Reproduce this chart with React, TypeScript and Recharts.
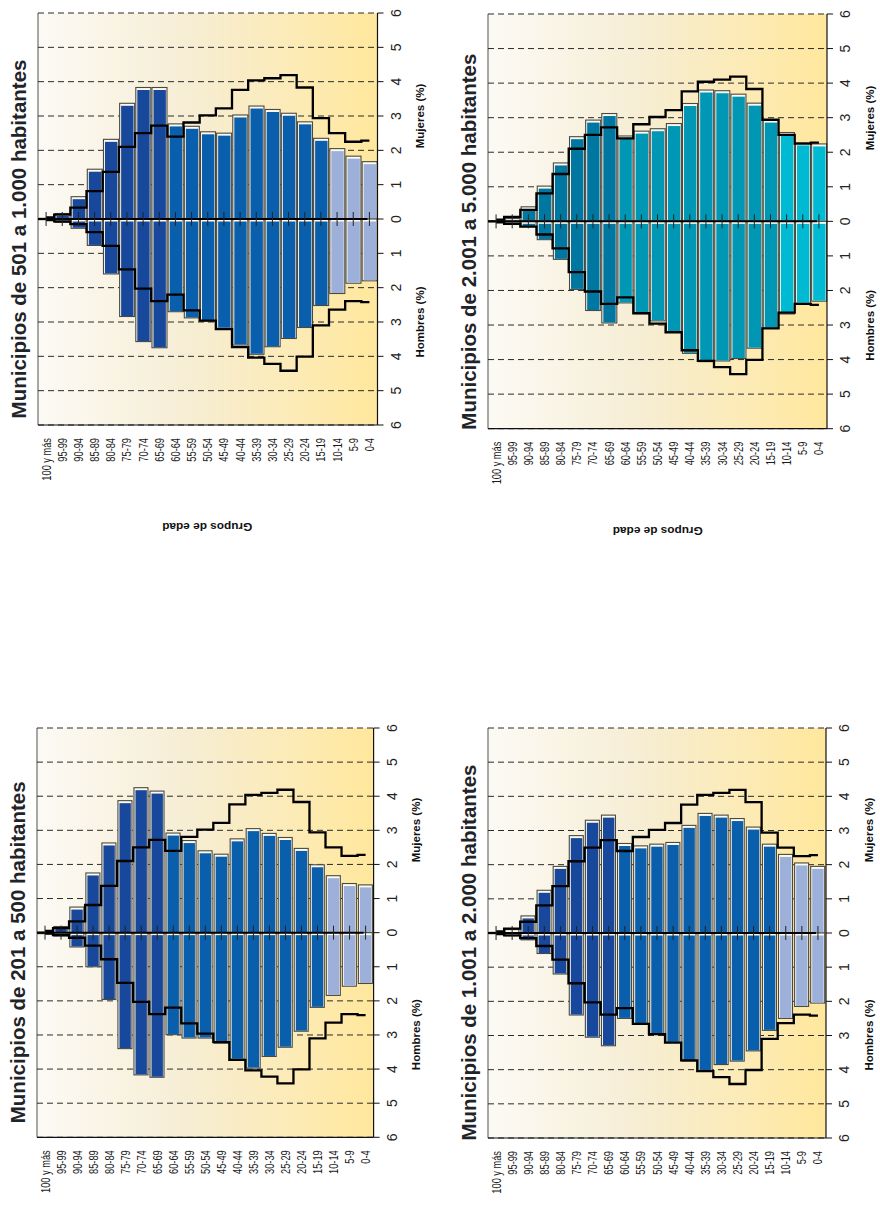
import React from 'react';
import { ComposedChart, Bar, Line, XAxis, YAxis, CartesianGrid, ReferenceLine, Cell } from 'recharts';

// grupos de edad, de mayor a menor
const edades = ['100 y más', '95-99', '90-94', '85-89', '80-84', '75-79', '70-74', '65-69', '60-64', '55-59', '50-54', '45-49', '40-44', '35-39', '30-34', '25-29', '20-24', '15-19', '10-14', '5-9', '0-4'];

// linea de referencia (igual en los cuatro graficos)
const refMujeres = [0.05, 0.13, 0.33, 0.81, 1.37, 2.10, 2.50, 2.72, 2.40, 2.81, 3.02, 3.22, 3.76, 4.04, 4.10, 4.19, 3.83, 2.94, 2.50, 2.25, 2.28];
const refHombres = [0.03, 0.07, 0.15, 0.38, 0.78, 1.47, 2.03, 2.39, 2.20, 2.66, 2.96, 3.21, 3.73, 4.04, 4.22, 4.42, 4.01, 3.10, 2.64, 2.39, 2.42];

// Municipios de 501 a 1.000 habitantes
const mujeres501 = [0.02, 0.16, 0.65, 1.45, 2.32, 3.37, 3.83, 3.83, 2.77, 2.70, 2.54, 2.50, 3.03, 3.29, 3.19, 3.08, 2.83, 2.35, 2.05, 1.83, 1.67];
const hombres501 = [0.02, 0.10, 0.27, 0.77, 1.60, 2.84, 3.57, 3.75, 2.70, 2.88, 2.97, 3.18, 3.67, 3.94, 3.72, 3.48, 3.16, 2.52, 2.17, 1.87, 1.80];

// Municipios de 2.001 a 5.000 habitantes
const mujeres2001 = [0.02, 0.08, 0.42, 1.02, 1.69, 2.45, 2.93, 3.12, 2.47, 2.61, 2.68, 2.83, 3.41, 3.80, 3.78, 3.68, 3.42, 2.93, 2.57, 2.27, 2.24];
const hombres2001 = [0.02, 0.06, 0.15, 0.53, 1.10, 1.97, 2.58, 2.94, 2.36, 2.67, 2.88, 3.21, 3.82, 4.06, 4.04, 3.97, 3.67, 3.09, 2.68, 2.37, 2.31];

// Municipios de 201 a 500 habitantes
const mujeres201 = [0.02, 0.18, 0.75, 1.75, 2.63, 3.87, 4.25, 4.15, 2.92, 2.70, 2.40, 2.30, 2.75, 3.05, 2.91, 2.79, 2.47, 1.99, 1.67, 1.44, 1.40];
const hombres201 = [0.03, 0.10, 0.42, 1.00, 1.96, 3.40, 4.17, 4.24, 2.99, 3.09, 3.09, 3.24, 3.71, 3.97, 3.63, 3.36, 2.89, 2.19, 1.84, 1.57, 1.49];

// Municipios de 1.001 a 2.000 habitantes
const mujeres1001 = [0.02, 0.10, 0.50, 1.25, 1.95, 2.85, 3.30, 3.45, 2.62, 2.55, 2.60, 2.65, 3.15, 3.50, 3.45, 3.35, 3.10, 2.60, 2.30, 2.05, 1.95];
const hombres1001 = [0.02, 0.08, 0.20, 0.60, 1.20, 2.40, 3.05, 3.30, 2.50, 2.65, 2.95, 3.20, 3.75, 4.05, 3.85, 3.75, 3.45, 2.85, 2.50, 2.15, 2.05];

const ticksValor = [-6, -5, -4, -3, -2, -1, 0, 1, 2, 3, 4, 5, 6];

const azules = ['#17489c', '#0a5fad', '#9db0da'];
const turquesas = ['#0077a1', '#0097b5', '#00b9d2'];

const FONT = "'Liberation Sans', Arial, sans-serif";
const ML = 12;
const MT = 4;
const YW = 40;
const XH = 70;

const colorDe = (i: number, pal: string[]) => (i < 8 ? pal[0] : i < 18 ? pal[1] : pal[2]);

const PyrBar = (p: any) => {
  const { x, y, width, height, fill } = p;
  const top = Math.min(y, y + height);
  const h = Math.abs(height);
  if (!h || !width) return null;
  return (
    <g>
      <rect x={x} y={top} width={width} height={h} fill="#fdfbf1" stroke="#4a483f" strokeWidth={1.1} />
      <rect x={x + 1.5} y={top + 2.5} width={Math.max(width - 2.6, 0)} height={Math.max(h - 3, 0)} fill={fill} />
    </g>
  );
};

const EdadTick = (p: any) => (
  <text
    transform={`translate(${p.x},${p.y}) rotate(-90) scale(0.74,1)`}
    textAnchor="end"
    dy="0.36em"
    fontSize={12.5}
    fontFamily={FONT}
    fill="#1a1a1a"
  >
    {p.payload.value}
  </text>
);

const ValorTick = (p: any) => {
  const cx = p.x + 10;
  return (
    <text transform={`rotate(-90 ${cx} ${p.y})`} x={cx} y={p.y} textAnchor="middle" dy="0.36em" fontSize={14} fontFamily={FONT} fill="#222">
      {Math.abs(p.payload.value)}
    </text>
  );
};

const ZeroLine = (p: any) => (
  <line x1={p.x1 - 10} y1={p.y1} x2={p.x2} y2={p.y2} stroke="#000" strokeWidth={2} />
);

const ZeroTick = (p: any) => (
  <line key={p.index} x1={p.cx} x2={p.cx} y1={p.cy - 7} y2={p.cy + 7} stroke="#222" strokeWidth={1} />
);

type Plot = { x: number; y: number; w: number; h: number };

const Piramide = ({ id, mujeres, hombres, paleta, plot }: { id: string; mujeres: number[]; hombres: number[]; paleta: string[]; plot: Plot }) => {
  const rows = edades.map((edad, i) => ({
    edad,
    mujeres: mujeres[i],
    hombres: -hombres[i],
    refM: refMujeres[i],
    refH: -refHombres[i],
  }));
  const gid = `fondo-${id}`;
  return (
    <div style={{ position: 'absolute', left: plot.x - ML, top: plot.y - MT }}>
      <ComposedChart
        width={ML + plot.w + YW}
        height={MT + plot.h + XH}
        data={rows}
        margin={{ top: MT, left: ML, right: 0, bottom: 0 }}
        stackOffset="sign"
        barCategoryGap="5%"
      >
        <defs>
          <linearGradient id={gid} x1="0" y1="0" x2="1" y2="0">
            <stop offset="0%" stopColor="#fcfaf5" />
            <stop offset="45%" stopColor="#f6edd3" />
            <stop offset="75%" stopColor="#fcebb7" />
            <stop offset="100%" stopColor="#ffe79c" />
          </linearGradient>
        </defs>
        <CartesianGrid
          horizontal={false}
          vertical
          verticalCoordinatesGenerator={({ offset }: any) => [offset.left]}
          stroke="#8c8a82"
          strokeWidth={1.5}
          fill={`url(#${gid})`}
          fillOpacity={1}
        />
        <CartesianGrid vertical={false} stroke="#2a2a2a" strokeDasharray="6 4" />
        <XAxis
          dataKey="edad"
          interval={0}
          tickLine={false}
          tickSize={0}
          tickMargin={13}
          axisLine={{ stroke: '#111', strokeWidth: 1.2 }}
          height={XH}
          tick={EdadTick}
        />
        <YAxis
          orientation="right"
          domain={[-6, 6]}
          ticks={ticksValor}
          interval={0}
          width={YW}
          axisLine={{ stroke: '#111', strokeWidth: 1.2 }}
          tickLine={{ stroke: '#111' }}
          tickSize={6}
          tickMargin={2}
          tick={ValorTick}
        />
        <Bar dataKey="mujeres" stackId="p" shape={(p: any) => <PyrBar {...p} />} isAnimationActive={false}>
          {rows.map((r, i) => <Cell key={r.edad} fill={colorDe(i, paleta)} />)}
        </Bar>
        <Bar dataKey="hombres" stackId="p" shape={(p: any) => <PyrBar {...p} />} isAnimationActive={false}>
          {rows.map((r, i) => <Cell key={r.edad} fill={colorDe(i, paleta)} />)}
        </Bar>
        <ReferenceLine y={0} stroke="#000" strokeWidth={2} shape={ZeroLine} />
        <Line dataKey={() => 0} stroke="none" dot={ZeroTick} activeDot={false} isAnimationActive={false} />
        <Line type="step" dataKey="refM" stroke="#000" strokeWidth={2.3} dot={false} activeDot={false} isAnimationActive={false} />
        <Line type="step" dataKey="refH" stroke="#000" strokeWidth={2.3} dot={false} activeDot={false} isAnimationActive={false} />
      </ComposedChart>
    </div>
  );
};

const paneles = [
  { id: 'a', titulo: 'Municipios de 501 a 1.000 habitantes', mujeres: mujeres501, hombres: hombres501, paleta: azules, plot: { x: 37.5, y: 13, w: 339.5, h: 412 }, grupos: true },
  { id: 'b', titulo: 'Municipios de 2.001 a 5.000 habitantes', mujeres: mujeres2001, hombres: hombres2001, paleta: turquesas, plot: { x: 488.3, y: 14.3, w: 339, h: 414.7 }, grupos: true },
  { id: 'c', titulo: 'Municipios de 201 a 500 habitantes', mujeres: mujeres201, hombres: hombres201, paleta: azules, plot: { x: 36.7, y: 727.7, w: 336.6, h: 409.3 }, grupos: false },
  { id: 'd', titulo: 'Municipios de 1.001 a 2.000 habitantes', mujeres: mujeres1001, hombres: hombres1001, paleta: azules, plot: { x: 488, y: 727.5, w: 338, h: 410 }, grupos: false },
];

export default function App() {
  return (
    <div style={{ position: 'absolute', left: 0, top: 0, width: 880, height: 1215, background: '#fff', fontFamily: FONT, overflow: 'hidden' }}>
      {paneles.map(p => (
        <Piramide key={p.id} id={p.id} mujeres={p.mujeres} hombres={p.hombres} paleta={p.paleta} plot={p.plot} />
      ))}
      <svg width={880} height={1215} style={{ position: 'absolute', left: 0, top: 0, pointerEvents: 'none' }}>
        {paneles.map(({ id, titulo, plot, grupos }) => {
          const tx = plot.x - 12;
          const ty = plot.y + plot.h / 2 + 20;
          const lx = plot.x + plot.w + 43;
          const yM = plot.y + plot.h / 4;
          const yH = plot.y + (plot.h * 3) / 4;
          const gx = plot.x + plot.w / 2;
          const gy = plot.y + plot.h + 101;
          return (
            <g key={id} fontFamily={FONT}>
              <text transform={`rotate(-90 ${tx} ${ty})`} x={tx} y={ty} textAnchor="middle" fontSize={20.5} fontWeight="bold" fill="#1f2428">
                {titulo}
              </text>
              <text transform={`rotate(-90 ${lx} ${yM})`} x={lx} y={yM} textAnchor="middle" dy="0.35em" fontSize={11.5} fontWeight="bold" fill="#111">
                Mujeres (%)
              </text>
              <text transform={`rotate(-90 ${lx} ${yH})`} x={lx} y={yH} textAnchor="middle" dy="0.35em" fontSize={11.5} fontWeight="bold" fill="#111">
                Hombres (%)
              </text>
              {grupos && (
                <text transform={`rotate(180 ${gx} ${gy})`} x={gx} y={gy} textAnchor="middle" dy="0.35em" fontSize={10} fontWeight="bold" fill="#111" textLength={90} lengthAdjust="spacingAndGlyphs">
                  Grupos de edad
                </text>
              )}
            </g>
          );
        })}
      </svg>
    </div>
  );
}
